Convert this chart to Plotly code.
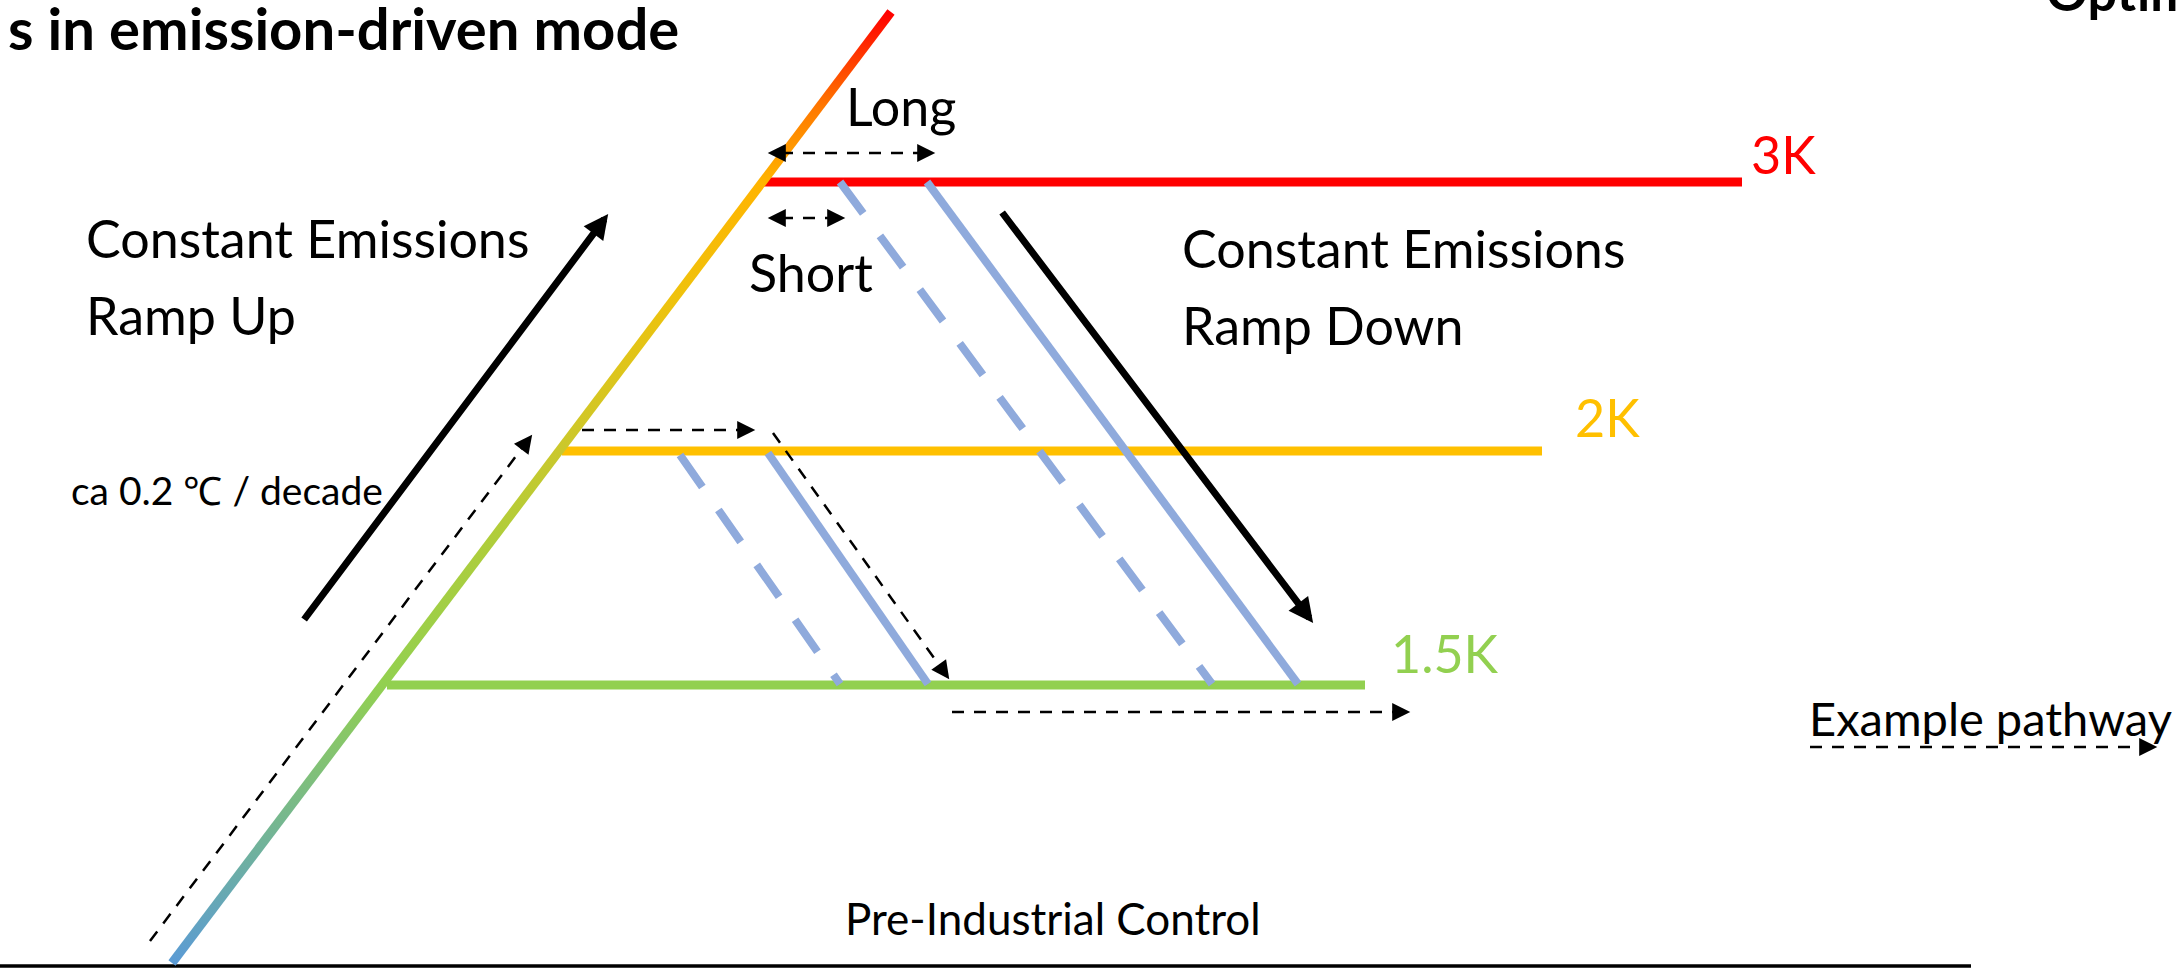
import math
import plotly.graph_objects as go

FIG_W, FIG_H = 2180, 968

# ---------------- data (schematic coordinates, y measured upward) ----------------
title_text = "s in emission-driven mode"
corner_text = "Optimal"

level_names = ["3K", "2K", "1.5K"]
level_y = [786, 517, 283]
level_x_start = [762, 562, 387]
level_x_end = [1742, 1542, 1365]
level_colors = ["#FF0000", "#FFC000", "#92D050"]
level_label_x = [1749, 1573, 1389]
level_label_y = [814, 551, 315]

control_x = [0, 1971]
control_y = [2, 2]

ramp_x = [172, 891]
ramp_y = [5, 956]
ramp_stop_pos = [0.0, 0.12, 0.293, 0.45, 0.538, 0.70, 0.821, 0.90, 1.0]
ramp_stop_col = ["#5B9BD5", "#70B29C", "#92D050", "#B0CD3A", "#CAC82C",
                 "#EFC20C", "#FFB400", "#FF7800", "#FF0000"]

down_x0 = [680, 768, 840, 927]
down_y0 = [513, 515, 786, 786]
down_x1 = [840, 928, 1212, 1298]
down_y1 = [284, 284, 284, 284]
down_dashed = [True, False, True, False]

trend_x0 = [303, 1001]
trend_y0 = [347, 757]
trend_x1 = [612, 1317]
trend_y1 = [759, 340]

path_x0 = [150, 582, 773, 952, 1810]
path_y0 = [27, 538, 535, 256, 221]
path_x1 = [535, 760, 952, 1415, 2162]
path_y1 = [537, 538, 285, 256, 221]

span_x0 = [763, 763]
span_x1 = [940, 850]
span_y = [815, 750]

text_labels = ["Constant Emissions", "Ramp Up", "Constant Emissions", "Ramp Down",
               "Long", "Short", "ca 0.2 \u2103 / decade", "Pre-Industrial Control",
               "Example pathway"]
text_x = [84, 84, 1180, 1180, 844, 747, 69, 843, 1807]
text_y = [730, 653, 720, 643, 862, 696, 478, 50, 250]
text_size = [52, 52, 52, 52, 52, 52, 39, 44, 47]

FONT = "Lato"
BLUE = "#8FAADC"

fig = go.Figure()

# pre-industrial control baseline
fig.add_trace(go.Scatter(x=control_x, y=control_y, mode="lines",
                         line=dict(color="black", width=3.5), hoverinfo="skip"))

# stabilisation levels
for i in range(len(level_names)):
    fig.add_trace(go.Scatter(x=[level_x_start[i], level_x_end[i]],
                             y=[level_y[i], level_y[i]], mode="lines",
                             line=dict(color=level_colors[i], width=9),
                             hoverinfo="skip"))

# ramp-up line with colour gradient (thin polygon with vertical fill gradient)
half_w = 4.5
dx, dy = ramp_x[1] - ramp_x[0], ramp_y[1] - ramp_y[0]
ln = math.hypot(dx, dy)
nx, ny = -dy / ln * half_w, dx / ln * half_w
poly_x = [ramp_x[0] + nx, ramp_x[1] + nx, ramp_x[1] - nx, ramp_x[0] - nx, ramp_x[0] + nx]
poly_y = [ramp_y[0] + ny, ramp_y[1] + ny, ramp_y[1] - ny, ramp_y[0] - ny, ramp_y[0] + ny]
fig.add_trace(go.Scatter(
    x=poly_x, y=poly_y, mode="lines", line=dict(width=0), fill="toself",
    fillgradient=dict(type="vertical",
                      colorscale=[[p, c] for p, c in zip(ramp_stop_pos, ramp_stop_col)],
                      start=ramp_y[0], stop=ramp_y[1]),
    hoverinfo="skip"))

# ramp-down pathways (blue)
for i in range(len(down_x0)):
    fig.add_trace(go.Scatter(x=[down_x0[i], down_x1[i]], y=[down_y0[i], down_y1[i]],
                             mode="lines",
                             line=dict(color=BLUE, width=8,
                                       dash="39px,28px" if down_dashed[i] else "solid"),
                             hoverinfo="skip"))


def arrow_head(xt, yt, ux, uy, width, size, back=22):
    scale = width * size
    fig.add_annotation(x=xt, y=yt, ax=xt - ux * back, ay=yt - uy * back,
                       xref="x", yref="y", axref="x", ayref="y", text="",
                       showarrow=True, arrowhead=2, arrowsize=size,
                       arrowwidth=width, arrowcolor="black",
                       standoff=1.3 * scale)


def dashed_line(x0, y0, x1, y1):
    fig.add_trace(go.Scatter(x=[x0, x1], y=[y0, y1], mode="lines",
                             line=dict(color="black", width=2.5, dash="12px,10px"),
                             hoverinfo="skip"))


# example pathway (dashed arrows)
for i in range(len(path_x0)):
    x0, y0, x1, y1 = path_x0[i], path_y0[i], path_x1[i], path_y1[i]
    L = math.hypot(x1 - x0, y1 - y0)
    ux, uy = (x1 - x0) / L, (y1 - y0) / L
    dashed_line(x0, y0, x1 - ux * 20, y1 - uy * 20)
    arrow_head(x1, y1, ux, uy, 2.5, 1.45)

# Long / Short double-headed arrows
for i in range(len(span_x0)):
    dashed_line(span_x0[i] + 18, span_y[i], span_x1[i] - 18, span_y[i])
    arrow_head(span_x1[i], span_y[i], 1, 0, 2.5, 1.45)
    arrow_head(span_x0[i], span_y[i], -1, 0, 2.5, 1.45)

# ramp up / ramp down solid arrows
for i in range(len(trend_x0)):
    fig.add_annotation(x=trend_x1[i], y=trend_y1[i], ax=trend_x0[i], ay=trend_y0[i],
                       xref="x", yref="y", axref="x", ayref="y", text="",
                       showarrow=True, arrowhead=2, arrowsize=0.7, arrowwidth=7,
                       arrowcolor="black", standoff=1.3 * 0.7 * 7)

# level labels
for i in range(len(level_names)):
    fig.add_annotation(x=level_label_x[i], y=level_label_y[i], text=level_names[i],
                       xref="x", yref="y", showarrow=False, xanchor="left",
                       yanchor="middle",
                       font=dict(family=FONT, size=52, color=level_colors[i]))

# text labels
for i in range(len(text_labels)):
    fig.add_annotation(x=text_x[i], y=text_y[i], text=text_labels[i],
                       xref="x", yref="y", showarrow=False, xanchor="left",
                       yanchor="middle",
                       font=dict(family=FONT, size=text_size[i], color="black"))

# title fragments (cut by the page edges, as in the original slide)
fig.add_annotation(x=681 / FIG_W, y=941 / FIG_H, text="<b>" + title_text + "</b>",
                   xref="paper", yref="paper",
                   showarrow=False, xanchor="right", yanchor="middle",
                   font=dict(family=FONT, size=58, color="black"))
fig.add_annotation(x=2044 / FIG_W, y=977 / FIG_H, text="<b>" + corner_text + "</b>",
                   xref="paper", yref="paper",
                   showarrow=False, xanchor="left", yanchor="middle",
                   font=dict(family=FONT, size=52, color="black"))

fig.update_layout(
    width=FIG_W, height=FIG_H, margin=dict(l=0, r=0, t=0, b=0),
    paper_bgcolor="white", plot_bgcolor="white", showlegend=False,
    xaxis=dict(range=[0, FIG_W], visible=False, fixedrange=True),
    yaxis=dict(range=[0, FIG_H], visible=False, fixedrange=True),
)

fig.write_html("out.html", config={"displayModeBar": False},
               post_script="document.body.style.margin='0px';")
